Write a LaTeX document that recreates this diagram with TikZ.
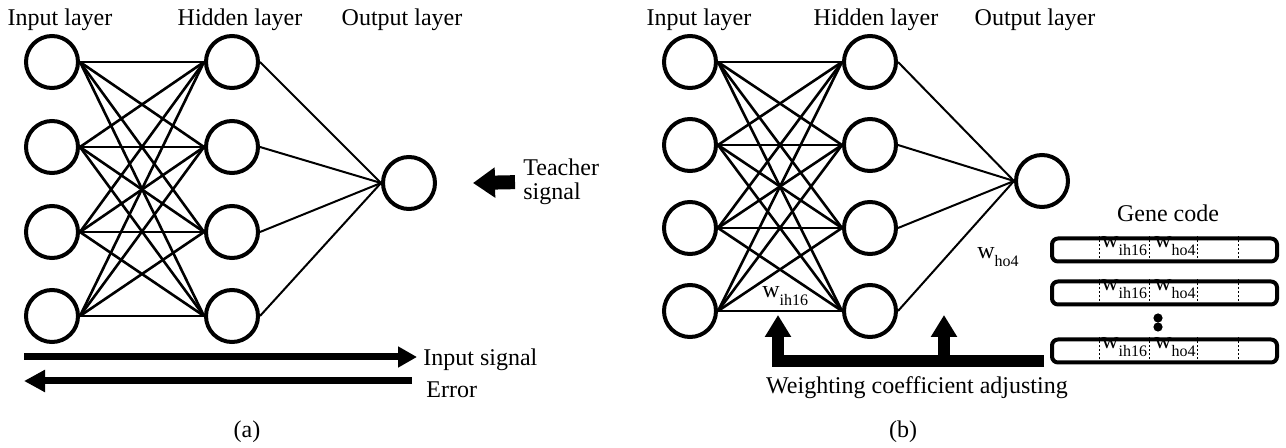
\documentclass[tikz,border=0pt]{standalone}
\usepackage{fontspec}
\setmainfont{Liberation Serif}
\usetikzlibrary{positioning}
\usetikzlibrary{arrows.meta}
\tikzset{>=latex}
\newcommand{\wgt}[1]{w\raisebox{-4pt}{\fontsize{8}{8}\selectfont #1}}
\tikzstyle{neuron}=[draw,circle,line width=2pt,minimum size=26pt,inner sep=0pt]
\tikzstyle{synapse}=[line width=1.3pt]
\tikzstyle{outsynapse}=[line width=1pt]
\tikzstyle{lbl}=[font=\fontsize{12}{12}\selectfont,inner sep=0pt,align=left]
\tikzstyle{fatarrow}=[line width=#1,line join=miter]
\tikzstyle{genebox}=[draw,line width=2pt,rounded corners=3pt,minimum width=112.5pt,
                     minimum height=11.5pt,inner sep=0pt]
\tikzstyle{divider}=[line width=0.5pt,dash pattern=on 1pt off 1pt]

\begin{document}
\begin{tikzpicture}[x=0.5pt,y=-0.5pt]
  \useasboundingbox (0,0) rectangle (1286,448);

  % ---------- (a) ----------
  \foreach \n/\y in {1/62,2/147,3/232,4/316} {
    \node[neuron] (ai\n) at (52,\y) {};
    \node[neuron] (ah\n) at (232,\y) {};
  }
  \node[neuron] (ao) at (409,183) {};
  \foreach \i in {1,...,4} {
    \foreach \j in {1,...,4} \draw[synapse] (ai\i.east) -- (ah\j.west);
    \draw[outsynapse] (ah\i.east) -- (ao.west);
  }

  \node[lbl,anchor=base] (aintxt) at (60,26) {Input layer};
  \node[lbl,anchor=base] (ahidtxt) at (240,26) {Hidden layer};
  \node[lbl,anchor=base] (aouttxt) at (402,26) {Output layer};

  % teacher signal
  \node[lbl,anchor=west] (teach) at (523,182) {Teacher\\signal};
  \coordinate (teachtip) at (473,183);
  \draw[fatarrow=7pt,-{Triangle[length=11pt,width=14.5pt]},shorten <=4pt]
    (teach.west) -- (teachtip);

  % input signal / error
  \node[lbl,anchor=base west] (insig) at (423,366) {Input signal};
  \node[lbl,anchor=base west] (err) at (426,398) {Error};
  \coordinate (insigL) at (24,357);
  \coordinate (errR) at (412,381);
  \draw[fatarrow=3.5pt,-{Triangle[length=9.5pt,width=10pt]},shorten >=3pt]
    (insigL) -- (insigL -| insig.west);
  \draw[fatarrow=3.5pt,-{Triangle[length=10.5pt,width=10.5pt]}]
    (errR) -- (errR -| insigL);

  \node[lbl,anchor=base] (acap) at (247,438) {(a)};

  % ---------- (b) ----------
  \foreach \n/\y in {1/62,2/145,3/228,4/311} {
    \node[neuron] (bi\n) at (690,\y) {};
    \node[neuron] (bh\n) at (870,\y) {};
  }
  \node[neuron] (bo) at (1042,181) {};
  \foreach \i in {1,...,4} {
    \foreach \j in {1,...,4} \draw[synapse] (bi\i.east) -- (bh\j.west);
    \draw[outsynapse] (bh\i.east) -- (bo.west);
  }

  \node[lbl,anchor=base] (bintxt) at (699,26) {Input layer};
  \node[lbl,anchor=base] (bhidtxt) at (876,26) {Hidden layer};
  \node[lbl,anchor=base] (bouttxt) at (1035,26) {Output layer};

  \node[lbl,anchor=base west] (wih) at (762,298) {\wgt{ih16}};
  \node[lbl,anchor=base west] (who) at (977,259) {\wgt{ho4}};

  % gene code
  \node[lbl,anchor=base] (genetxt) at (1168,222) {Gene code};
  \foreach \r/\y in {1/250,2/293,3/351} {
    \node[genebox] (g\r) at (1164.5,\y) {};
    \foreach \x in {1099,1149,1197,1238}
      \draw[divider] (\x,0 |- g\r.north) -- (\x,0 |- g\r.south);
    \node[lbl,anchor=base west] at (1101,\y-2) {\wgt{ih16}};
    \node[lbl,anchor=base west] at (1154,\y-2) {\wgt{ho4}};
  }
  \fill (1158,318) circle (2.3pt);
  \fill (1158,327) circle (2.3pt);

  % weighting coefficient adjusting
  \coordinate (fb) at (1044,361);
  \coordinate (wihtip) at (778,315);
  \coordinate (whotip) at (944,315);
  \draw[fatarrow=6pt,-{Triangle[length=11pt,width=12.5pt]}] (fb) -| (wihtip);
  \draw[fatarrow=6pt,-{Triangle[length=11pt,width=12.5pt]}] (fb -| whotip) -- (whotip);
  \node[lbl,anchor=base] (adjtxt) at (917,394) {Weighting coefficient adjusting};

  \node[lbl,anchor=base] (bcap) at (903,438) {(b)};
\end{tikzpicture}
\end{document}
